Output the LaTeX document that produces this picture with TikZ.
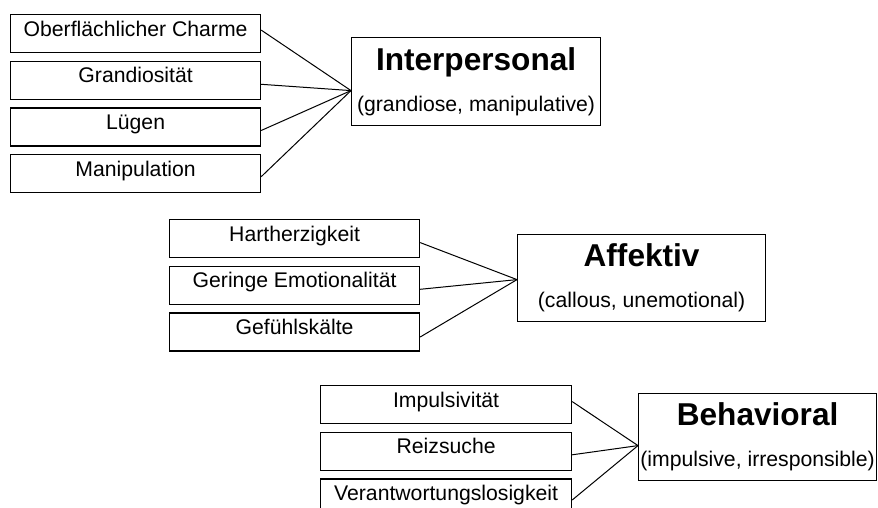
\documentclass[tikz,border=0pt]{standalone}
\usepackage{fontspec}
\setmainfont{Liberation Sans}
\usetikzlibrary{positioning}

\newcommand{\factorname}{\fontsize{15.8}{18}\selectfont\bfseries}

\begin{document}
\begin{tikzpicture}[x=0.5pt,y=-0.5pt,
        trait/.style={draw,line width=0.6pt,minimum width=125pt,inner xsep=1pt,inner ysep=0pt,
            text height=10.75pt,text depth=8.25pt,font=\fontsize{10.6}{12}\selectfont},
        factor/.style={draw,line width=0.6pt,minimum height=44pt,inner xsep=0.5pt,align=center,
            font=\fontsize{10.6}{20.5}\selectfont},
        link/.style={line width=0.5pt}]
        \useasboundingbox (0,0) rectangle (878,508);

        \node[trait,anchor=north west] (charme) at (10,14) {Oberflächlicher Charme};
        \node[trait,below=3.75pt of charme] (grandios) {Grandiosität};
        \node[trait,below=3.75pt of grandios] (luegen) {Lügen};
        \node[trait,below=3.75pt of luegen] (manip) {Manipulation};
        \node[factor,anchor=north west,minimum width=124.5pt] (inter) at (351,37)
            {{\factorname Interpersonal}\\(grandiose, manipulative)};
        \coordinate (interhub) at ([yshift=-4.5pt]inter.west);
        \foreach \n/\d in {charme/1.75,grandios/-2,luegen/-1.75,manip/-1.5}
            \draw[link] ([yshift=\d pt]\n.east) -- (interhub);

        \node[trait,anchor=north west] (hart) at (169,219) {Hartherzigkeit};
        \node[trait,below=3.75pt of hart] (gering) {Geringe Emotionalität};
        \node[trait,below=3.75pt of gering] (kaelte) {Gefühlskälte};
        \node[factor,anchor=north west,minimum width=124pt,minimum height=43.5pt] (affekt) at (517,234)
            {{\factorname Affektiv}\\(callous, unemotional)};
        \coordinate (affekthub) at ([yshift=-0.75pt]affekt.west);
        \foreach \n/\d in {hart/-2,gering/-2,kaelte/-2.5}
            \draw[link] ([yshift=\d pt]\n.east) -- (affekthub);

        \node[trait,anchor=north west,minimum width=125.5pt] (impuls) at (320,385) {Impulsivität};
        \node[trait,below=3.75pt of impuls,minimum width=125.5pt] (reiz) {Reizsuche};
        \node[trait,below=3.75pt of reiz,minimum width=125.5pt] (verant) {Verantwortungslosigkeit};
        \node[factor,anchor=north west,minimum width=119pt,minimum height=43.5pt] (behav) at (638,393)
            {{\factorname Behavioral}\\(impulsive, irresponsible)};
        \coordinate (behavhub) at ([yshift=-4.25pt]behav.west);
        \foreach \n/\d in {impuls/1.5,reiz/-1.75,verant/-1}
            \draw[link] ([yshift=\d pt]\n.east) -- (behavhub);
    \end{tikzpicture}
\end{document}
